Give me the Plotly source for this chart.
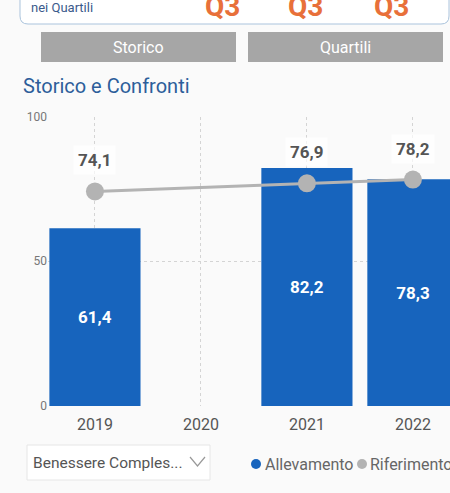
import plotly.graph_objects as go

# ---------------- data ----------------
years = ["2019", "2020", "2021", "2022"]
allevamento = [61.4, None, 82.2, 78.3]
riferimento = [74.1, None, 76.9, 78.2]
y_ticks = [0, 50, 100]
buttons = ["Storico", "Quartili"]
quartili = ["Q3", "Q3", "Q3"]
title_text = "Storico e Confronti"
card_text = "nei Quartili"
dropdown_text = "Benessere Comples..."
legend_names = ["Allevamento", "Riferimento"]

# ---------------- styles ----------------
W, H = 450, 493
BG = "#fafafa"
BLUE = "#1764bd"
GREY = "#b3b3b3"
FONT = "Roboto, sans-serif"


def px(x):
    return x / W


def py(y):
    return 1 - y / H


def fmt(v):
    return f"{v:.1f}".replace(".", ",")


fig = go.Figure()

fig.add_trace(go.Bar(
    x=years, y=allevamento, name=legend_names[0],
    marker=dict(color=BLUE, line=dict(width=0)),
    texttemplate="%{y:.1f}", textposition="inside", insidetextanchor="middle",
    textangle=0, textfont=dict(family=FONT, size=17, color="white", weight="bold"),
    showlegend=False, hoverinfo="skip",
))

fig.add_trace(go.Scatter(
    x=years, y=riferimento, name=legend_names[1], mode="lines+markers",
    connectgaps=True, line=dict(color=GREY, width=3),
    marker=dict(color=GREY, size=18), showlegend=False, hoverinfo="skip",
))

annotations = []
# labels above the reference markers (category index positions)
for i, v in enumerate(riferimento):
    if v is None:
        continue
    annotations.append(dict(
        x=i, y=v, xref="x", yref="y", text=fmt(v), showarrow=False,
        yshift=31, font=dict(family=FONT, size=17, color="#555555", weight="bold"),
        bgcolor="rgba(255,255,255,0.7)", borderpad=4,
    ))

# title
annotations.append(dict(x=px(21), y=py(86), xref="paper", yref="paper", xanchor="left",
                        yanchor="middle", text=title_text, showarrow=False,
                        font=dict(family=FONT, size=20, color="#2d5e9a")))
# card text
annotations.append(dict(x=px(29), y=py(7), xref="paper", yref="paper", xanchor="left",
                        yanchor="middle", text=card_text, showarrow=False,
                        font=dict(family=FONT, size=13, color="#3a5a8c")))
for cx, q in zip([222, 305, 391], quartili):
    annotations.append(dict(x=px(cx), y=py(6.5), xref="paper", yref="paper", xanchor="center",
                            yanchor="middle", text=q, showarrow=False,
                            font=dict(family=FONT, size=28, color="#e8703a", weight="bold")))
# buttons
for (x0, x1), b in zip([(41, 236), (248, 443)], buttons):
    annotations.append(dict(x=px((x0 + x1) / 2), y=py(47), xref="paper", yref="paper",
                            xanchor="center", yanchor="middle", text=b, showarrow=False,
                            font=dict(family=FONT, size=16, color="white")))
# dropdown
annotations.append(dict(x=px(31), y=py(463), xref="paper", yref="paper", xanchor="left",
                        yanchor="middle", text=dropdown_text, showarrow=False,
                        font=dict(family=FONT, size=15.5, color="#555555")))
# legend
for lx, name in zip([263, 368], legend_names):
    annotations.append(dict(x=px(lx), y=py(464), xref="paper", yref="paper", xanchor="left",
                            yanchor="middle", text=name, showarrow=False,
                            font=dict(family=FONT, size=16, color="#666666")))

shapes = []
# card
r = 8
x0, x1, y0, y1 = 20, 449, -12, 24
path = (f"M {px(x0)},{py(y0)} L {px(x0)},{py(y1 - r)} "
        f"Q {px(x0)},{py(y1)} {px(x0 + r)},{py(y1)} "
        f"L {px(x1 - r)},{py(y1)} Q {px(x1)},{py(y1)} {px(x1)},{py(y1 - r)} "
        f"L {px(x1)},{py(y0)} Z")
shapes.append(dict(type="path", xref="paper", yref="paper", path=path,
                   fillcolor="white", line=dict(color="#aac3dc", width=1), layer="below"))
# buttons
for (bx0, bx1) in [(41, 236), (248, 443)]:
    shapes.append(dict(type="rect", xref="paper", yref="paper",
                       x0=px(bx0), x1=px(bx1), y0=py(62), y1=py(32),
                       fillcolor="#a6a6a6", line=dict(width=0), layer="below"))
# dropdown
shapes.append(dict(type="rect", xref="paper", yref="paper",
                   x0=px(27), x1=px(210), y0=py(480), y1=py(445),
                   fillcolor="white", line=dict(color="#e6e6e6", width=1), layer="below"))
shapes.append(dict(type="path", xref="paper", yref="paper",
                   path=f"M {px(190)},{py(457)} L {px(197.5)},{py(466)} L {px(205)},{py(457)}",
                   line=dict(color="#999999", width=1.2)))
# legend dots
for cx, col in zip([256, 362], [BLUE, GREY]):
    shapes.append(dict(type="circle", xref="paper", yref="paper",
                       x0=px(cx - 5), x1=px(cx + 5), y0=py(469), y1=py(459),
                       fillcolor=col, line=dict(width=0)))

fig.update_layout(
    width=W, height=H, margin=dict(l=0, r=0, t=0, b=0, autoexpand=False),
    paper_bgcolor=BG, plot_bgcolor=BG, separators=",.",
    bargap=0.14, showlegend=False,
    annotations=annotations, shapes=shapes,
    xaxis=dict(
        domain=[px(48), 1], type="category", categoryorder="array", categoryarray=years,
        range=[-0.443, 3.35], showgrid=True, gridcolor="#d4d4d4", griddash="dot", gridwidth=1,
        showline=False, zeroline=False, ticks="", ticklabelstandoff=7,
        tickfont=dict(family=FONT, size=16, color="#555555"),
    ),
    yaxis=dict(
        domain=[py(406), py(116.5)], range=[0, 100], tickvals=y_ticks,
        showgrid=True, gridcolor="#d4d4d4", griddash="dot", gridwidth=1,
        zeroline=False, showline=False, ticks="",
        tickfont=dict(family=FONT, size=12, color="#777777"),
    ),
)

fig.write_html(
    "out.html",
    config={"displayModeBar": False},
    post_script="document.body.style.margin='0';document.body.style.overflow='hidden';",
)
